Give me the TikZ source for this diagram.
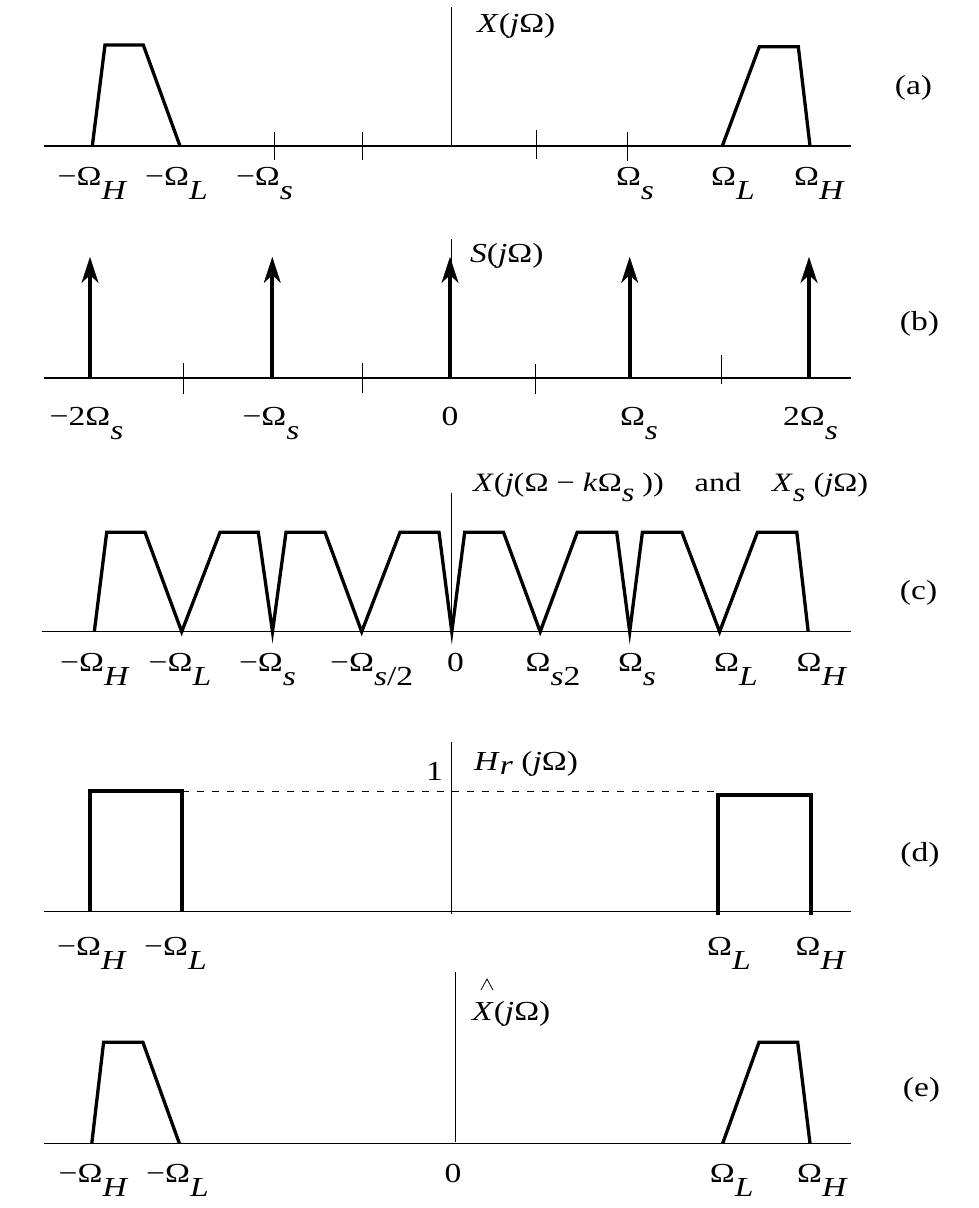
\documentclass[tikz,border=0pt]{standalone}
\usepackage{fontspec}
\setmainfont{Liberation Serif}
\usetikzlibrary{arrows.meta}
\newcommand{\hs}[1]{\scalebox{1.22}[1]{#1}}
\newcommand{\lo}[1]{\raisebox{-0.51em}{\textit{#1}}}
\begin{document}
\begin{tikzpicture}[x=1pt, y=-1pt,
  axis/.style={line width=1.1pt},
  tickl/.style={line width=1.1pt},
  curve/.style={line width=3.3pt, line join=miter},
  rectf/.style={line width=4pt, line join=miter},
  imp/.style={line width=4pt, -{Stealth[length=26pt,width=17pt,inset=8pt,line width=0.4pt]}},
  lab/.style={anchor=base, inner sep=0pt, font=\fontsize{27.5}{32}\selectfont},
  labw/.style={anchor=base west, inner sep=0pt, font=\fontsize{27.5}{32}\selectfont},
  plab/.style={anchor=center, inner sep=0pt, font=\fontsize{27.5}{32}\selectfont}]
\useasboundingbox (0,0) rectangle (978,1208);

% ---------------- (a) ----------------
\draw[axis] (44,146) -- (851,146);
\draw[axis] (451.7,7) -- (451.7,146);
\foreach \x/\a/\b in {274.7/132/160, 362.3/132/160, 536.3/130/159, 627.3/132/161}
  \draw[tickl] (\x,\a) -- (\x,\b);
\draw[curve] (92.3,146) -- (105,45) -- (143.3,45) -- (180,146);
\draw[curve] (722.3,146) -- (759.3,46.7) -- (798.3,46.7) -- (810,146);
\node[lab] (a1) at (92.5,185) {\hs{−Ω\lo{H}}};
\node[lab] (a2) at (176.5,185) {\hs{−Ω\lo{L}}};
\node[lab] (a3) at (264.5,185) {\hs{−Ω\lo{s}}};
\node[lab] (a4) at (635,185) {\hs{Ω\lo{s}}};
\node[lab] (a5) at (733,185) {\hs{Ω\lo{L}}};
\node[lab] (a6) at (819.5,185) {\hs{Ω\lo{H}}};
\node[labw] (at) at (477,32) {\hs{\textit{X}(\textit{j}Ω)}};
\node[plab] (ap) at (913.5,88) {\hs{(a)}};

% ---------------- (b) ----------------
\draw[axis] (44,378) -- (851,378);
\draw[axis] (451.5,239) -- (451.5,378);
\foreach \x/\a/\b in {183.3/363/394, 362.3/363/393, 535.3/364/394, 721.3/355/384}
  \draw[tickl] (\x,\a) -- (\x,\b);
\foreach \x in {90, 272.3, 450, 629.7, 809}
  \draw[imp] (\x,379) -- (\x,257);
\node[lab] (b1) at (86.5,425) {\hs{−2Ω\lo{s}}};
\node[lab] (b2) at (271,425) {\hs{−Ω\lo{s}}};
\node[lab] (b3) at (450,425) {\hs{0}};
\node[lab] (b4) at (639,425) {\hs{Ω\lo{s}}};
\node[lab] (b5) at (810.5,425) {\hs{2Ω\lo{s}}};
\node[labw] (bt) at (470,262) {\hs{\textit{S}(\textit{j}Ω)}};
\node[plab] (bp) at (919.5,324) {\hs{(b)}};

% ---------------- (c) ----------------
\draw[axis] (42,631.7) -- (851,631.7);
\draw[axis] (451.7,492.7) -- (451.7,631.7);
\draw[curve] (94.3,631.7) -- (106.7,532.3) -- (145,532.3) -- (181.7,631.7)
  -- (220,532.3) -- (258.3,532.3) -- (272.5,631.7)
  -- (286,532.3) -- (325,532.3) -- (361.7,631.7)
  -- (400,532.3) -- (439,532.3) -- (451.8,631.7)
  -- (464.7,532.3) -- (503.5,532.3) -- (540.2,631.7)
  -- (577.2,532.3) -- (616.7,532.3) -- (629.7,631.7)
  -- (642.4,532.3) -- (681.9,532.3) -- (719.6,631.7)
  -- (757.4,532.3) -- (796.8,532.3) -- (808.2,631.7);
\node[lab] (c1) at (95,671.7) {\hs{−Ω\lo{H}}};
\node[lab] (c2) at (180,671.7) {\hs{−Ω\lo{L}}};
\node[lab] (c3) at (267.5,671.7) {\hs{−Ω\lo{s}}};
\node[lab] (c4) at (371.7,671.7) {\hs{−Ω\raisebox{-0.51em}{\textit{s}/2}}};
\node[lab] (c5) at (455.5,671.7) {\hs{0}};
\node[lab] (c6) at (553,671.7) {\hs{Ω\raisebox{-0.51em}{\textit{s}2}}};
\node[lab] (c7) at (637,671.7) {\hs{Ω\lo{s}}};
\node[lab] (c8) at (736,671.7) {\hs{Ω\lo{L}}};
\node[lab] (c9) at (822,671.7) {\hs{Ω\lo{H}}};
\node[labw, font=\fontsize{26.5}{32}\selectfont] (ct) at (473,491.7)
  {\hs{\textit{X}(\textit{j}(Ω − \textit{k}Ω\raisebox{-0.38em}{\textit{s}}\ ))\hspace{0.95em}and\hspace{0.95em}\textit{X}\raisebox{-0.38em}{\textit{s}}\ (\textit{j}Ω)}};
\node[plab] (cp) at (918.6,593) {\hs{(c)}};

% ---------------- (d) ----------------
\draw[axis] (44,911.7) -- (851,911.7);
\draw[axis] (451.5,742) -- (451.5,914);
\draw[line width=0.9pt, dash pattern=on 7pt off 8pt] (181.8,791.5) -- (716.7,791.5);
\draw[rectf] (90,911.7) -- (90,791) -- (181.8,791) -- (181.8,911.7);
\draw[rectf] (718.3,915) -- (718.3,795) -- (810.7,795) -- (810.7,915);
\node[lab] (d1) at (92,955) {\hs{−Ω\lo{H}}};
\node[lab] (d2) at (175.5,955) {\hs{−Ω\lo{L}}};
\node[lab] (d3) at (729,955) {\hs{Ω\lo{L}}};
\node[lab] (d4) at (821,955) {\hs{Ω\lo{H}}};
\node[lab] (d5) at (434.5,780) {\hs{1}};
\node[labw] (dt) at (474,770) {\hs{\textit{H}\raisebox{-0.18em}{\textit{r}}\ (\textit{j}Ω)}};
\node[plab] (dp) at (920,855) {\hs{(d)}};

% ---------------- (e) ----------------
\draw[axis] (44,1143.3) -- (851,1143.3);
\draw[axis] (455.5,972) -- (455.5,1142);
\draw[curve] (91.8,1143.3) -- (103.6,1042.3) -- (142.9,1042.3) -- (179.3,1143.3);
\draw[curve] (722.7,1143.3) -- (759,1042.3) -- (797.7,1042.3) -- (810,1143.3);
\node[lab] (e1) at (93.5,1182) {\hs{−Ω\lo{H}}};
\node[lab] (e2) at (177.5,1182) {\hs{−Ω\lo{L}}};
\node[lab] (e3) at (453,1182) {\hs{0}};
\node[lab] (e4) at (731.7,1182) {\hs{Ω\lo{L}}};
\node[lab] (e5) at (822.5,1182) {\hs{Ω\lo{H}}};
\node[labw] (et) at (472,1020) {\hs{\textit{X}(\textit{j}Ω)}};
\coordinate (hatc) at (487,979);
\draw[line width=0.8pt, line join=miter] ([xshift=-6pt,yshift=-11pt]hatc) -- (hatc) -- ([xshift=6pt,yshift=-11pt]hatc);
\node[plab] (ep) at (921.5,1090) {\hs{(e)}};
\end{tikzpicture}
\end{document}
